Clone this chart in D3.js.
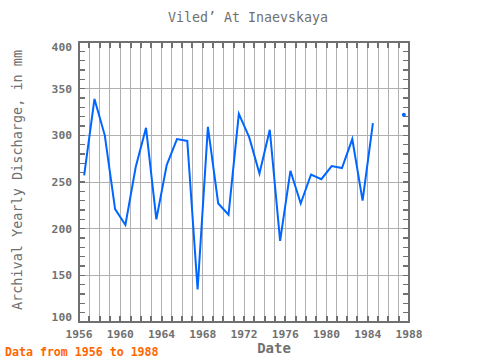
<!DOCTYPE html>
<html><head><meta charset="utf-8">
<script src="https://cdn.jsdelivr.net/npm/d3@7/dist/d3.min.js"></script>
<style>body{margin:0;background:#fff}svg{display:block}</style>
</head><body>
<script>
const years = [1956,1957,1958,1959,1960,1961,1962,1963,1964,1965,1966,1967,1968,1969,1970,1971,1972,1973,1974,1975,1976,1977,1978,1979,1980,1981,1982,1983,1984,1985,1986,1987];
const discharge = [257,339,300,221,204,266,308,210,268,296,294,135,309,227,215,323,298,259,306,187,262,227,258,253,267,265,296,230,313,null,null,322];
const xTicks = [1956,1960,1964,1968,1972,1976,1980,1984,1988];
const yTicks = [100,150,200,250,300,350,400];
const titleText = "Viled\u2019 At Inaevskaya";
const yLabel = "Archival Yearly Discharge, in mm";
const xLabel = "Date";
const footer = "Data from 1956 to 1988";

const W = 480, H = 360;
const L = 79, R = 409, T = 42, B = 322;
const font = "'DejaVu Sans Mono', 'Liberation Mono', monospace";
const svg = d3.select("body").append("svg").attr("width", W).attr("height", H);

const x = d3.scaleLinear().domain([1956, 1988]).range([L, R]);
const y = d3.scaleLinear().domain([100, 400]).range([B, T]);

// grid
const g = svg.append("g").attr("shape-rendering", "crispEdges");
g.selectAll(".vg").data(d3.range(1957, 1988)).enter().append("line")
  .attr("x1", d => x(d)).attr("x2", d => x(d)).attr("y1", T).attr("y2", B)
  .attr("stroke", "#b0b0b0").attr("stroke-width", 1);
g.selectAll(".hg").data(yTicks.slice(1, -1)).enter().append("line")
  .attr("x1", L).attr("x2", R).attr("y1", d => y(d)).attr("y2", d => y(d))
  .attr("stroke", "#b0b0b0").attr("stroke-width", 1);

// ticks
const tc = "#707070";
const yearTicks = d3.range(1956, 1989);
g.selectAll(".tt").data(yearTicks).enter().append("line")
  .attr("x1", d => x(d)).attr("x2", d => x(d)).attr("y1", T).attr("y2", T + 6)
  .attr("stroke", tc).attr("stroke-width", 2);
g.selectAll(".bt").data(yearTicks).enter().append("line")
  .attr("x1", d => x(d)).attr("x2", d => x(d)).attr("y1", B).attr("y2", B - 6)
  .attr("stroke", tc).attr("stroke-width", 2);
const minorY = d3.range(100, 401, 10);
g.selectAll(".lt").data(minorY).enter().append("line")
  .attr("x1", L).attr("x2", L + 6).attr("y1", d => y(d)).attr("y2", d => y(d))
  .attr("stroke", tc).attr("stroke-width", 1.5);
g.selectAll(".rt").data(minorY).enter().append("line")
  .attr("x1", R).attr("x2", R - 6).attr("y1", d => y(d)).attr("y2", d => y(d))
  .attr("stroke", tc).attr("stroke-width", 1.5);

// frame
g.append("rect").attr("x", L).attr("y", T).attr("width", R - L).attr("height", B - T)
  .attr("fill", "none").attr("stroke", tc).attr("stroke-width", 2);

// data line
const pts = years.map((yr, i) => ({yr, v: discharge[i]}));
const line = d3.line().defined(d => d.v !== null).x(d => x(d.yr + 0.5)).y(d => y(d.v));
svg.append("path").datum(pts).attr("d", line)
  .attr("fill", "none").attr("stroke", "#0066ff").attr("stroke-width", 2);
// isolated points
const iso = pts.filter((d, i) => d.v !== null && (i === 0 || pts[i-1].v === null) && (i === pts.length-1 || pts[i+1].v === null));
svg.selectAll(".dot").data(iso).enter().append("circle")
  .attr("cx", d => x(d.yr + 0.5)).attr("cy", d => y(d.v)).attr("r", 2)
  .attr("fill", "#0066ff");

// axis labels
svg.selectAll(".xl").data(xTicks).enter().append("text")
  .attr("x", d => x(d)).attr("y", B + 16).attr("text-anchor", "middle")
  .attr("font-family", font).attr("font-size", 11.3).attr("font-weight", "bold").attr("fill", "#707070")
  .text(d => d);
svg.selectAll(".yl").data(yTicks).enter().append("text")
  .attr("x", L - 7)
  .attr("y", d => y(d) + 4 + (d === 400 ? 5 : d === 100 ? -5 : 0))
  .attr("text-anchor", "end")
  .attr("font-family", font).attr("font-size", 11.3).attr("font-weight", "bold").attr("fill", "#707070")
  .text(d => d);

svg.append("text").attr("x", 248).attr("y", 22).attr("text-anchor", "middle")
  .attr("font-family", font).attr("font-size", 13.3).attr("fill", "#707070").text(titleText);
svg.append("text").attr("transform", "translate(22,180) rotate(-90)").attr("text-anchor", "middle")
  .attr("font-family", font).attr("font-size", 13.5).attr("fill", "#707070").text(yLabel);
svg.append("text").attr("x", 274).attr("y", 353).attr("text-anchor", "middle")
  .attr("font-family", font).attr("font-size", 14).attr("font-weight", "bold").attr("fill", "#707070").text(xLabel);
svg.append("text").attr("x", 5).attr("y", 356)
  .attr("font-family", font).attr("font-size", 11.6).attr("font-weight", "bold").attr("fill", "#ff6600").text(footer);
</script>
</body></html>
